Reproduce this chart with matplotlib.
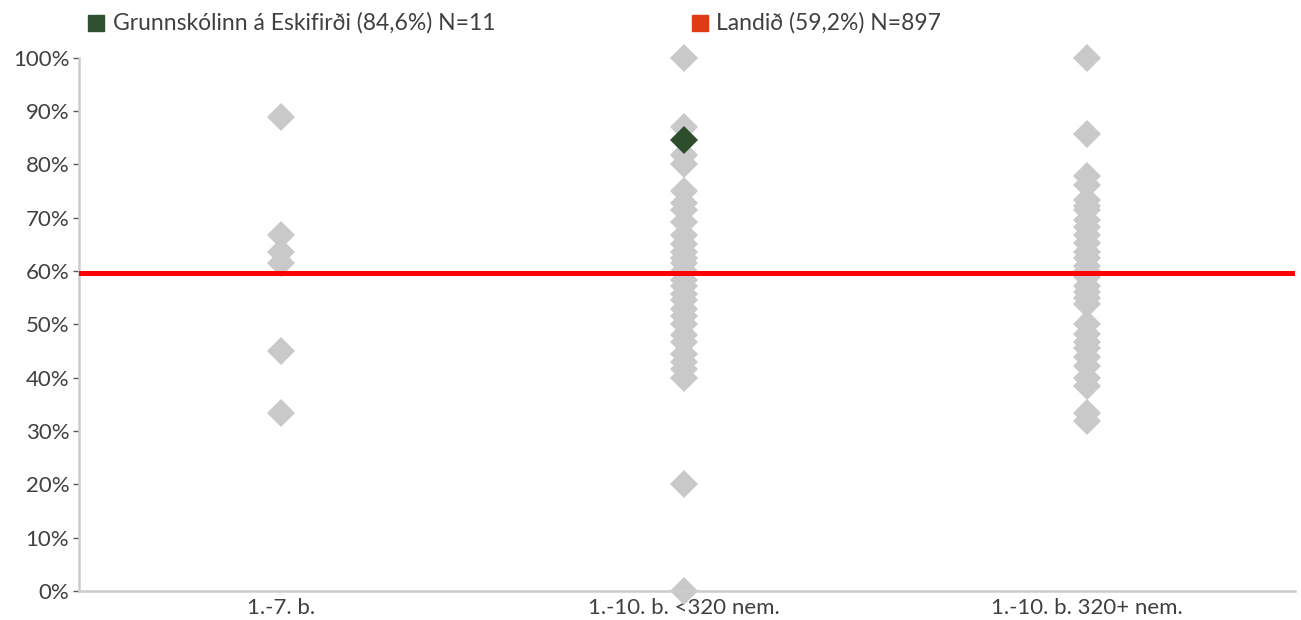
import matplotlib
matplotlib.use("Agg")
import matplotlib.pyplot as plt
from matplotlib.patches import Rectangle

plt.rcParams['font.family'] = ['Lato', 'DejaVu Sans']

# categories on the x axis
categories = ["1.-7. b.", "1.-10. b. <320 nem.", "1.-10. b. 320+ nem."]

# all schools, one list per category (percent)
schools_small = [88.9, 66.7, 63.6, 61.5, 45.0, 33.3]
schools_mid   = [100.0, 87.0, 81.8, 80.0, 75.0, 72.7, 71.4, 69.2, 66.7, 65.0,
                 63.6, 62.5, 61.5, 60.0, 58.3, 57.1, 55.6, 54.5, 52.9, 51.5,
                 50.0, 48.0, 46.7, 44.4, 42.9, 41.7, 40.0, 20.0, 0.0]
schools_big   = [100.0, 85.7, 77.8, 76.2, 73.3, 72.2, 71.4, 69.6, 68.2, 66.7,
                 65.2, 63.6, 62.5, 60.9, 60.0, 58.8, 57.1, 56.0, 55.0, 53.8,
                 50.0, 48.1, 46.7, 45.5, 43.8, 42.1, 40.0, 38.5, 33.3, 31.8]
all_schools = [schools_small, schools_mid, schools_big]

# the selected school and the national average
school_label = "Grunnskólinn á Eskifirði (84,6%) N=11"
school_cat = 1
school_value = 84.6
national_label = "Landið (59,2%) N=897"
national_value = 59.7

yticks = list(range(0, 101, 10))

fig = plt.figure(figsize=(13.01, 6.2), dpi=100)
ax = fig.add_axes([0.0607, 0.047, 0.9347, 0.860])

for i, vals in enumerate(all_schools):
    ax.plot([i] * len(vals), vals, linestyle="none", marker="D", markersize=14,
            color="#c9c9c9", markeredgewidth=0, clip_on=False, zorder=2)

ax.axhline(national_value, color="#ff0000", linewidth=3.6, zorder=3)

ax.plot([school_cat], [school_value], linestyle="none", marker="D", markersize=14,
        color="#2e4d2d", markeredgewidth=0, clip_on=False, zorder=4)

ax.set_xlim(-0.5, 2.515)
ax.set_ylim(0, 100)
ax.set_yticks(yticks)
ax.set_yticklabels([f"{t}%" for t in yticks])
ax.set_xticks(range(len(categories)))
ax.set_xticklabels(categories)

for s in ["top", "right"]:
    ax.spines[s].set_visible(False)
for s in ["left", "bottom"]:
    ax.spines[s].set_color("#cccccc")
    ax.spines[s].set_linewidth(1.8)

ax.tick_params(axis="y", length=4, width=1, color="#595959", pad=3,
               labelsize=16, labelcolor="#404040")
ax.tick_params(axis="x", length=0, pad=5, labelsize=16, labelcolor="#404040")

# legend row at the top
fig.patches.append(Rectangle((88 / 1301, 1 - 31 / 620), 16 / 1301, 16 / 620,
                             transform=fig.transFigure, color="#2f5130"))
fig.text(113 / 1301, 1 - 23 / 620, school_label, fontsize=16.5, color="#404040",
         va="center", ha="left")
fig.patches.append(Rectangle((692 / 1301, 1 - 31 / 620), 16 / 1301, 16 / 620,
                             transform=fig.transFigure, color="#e03c14"))
fig.text(716 / 1301, 1 - 23 / 620, national_label, fontsize=16.5, color="#404040",
         va="center", ha="left")

fig.savefig("out.png", dpi=100)
